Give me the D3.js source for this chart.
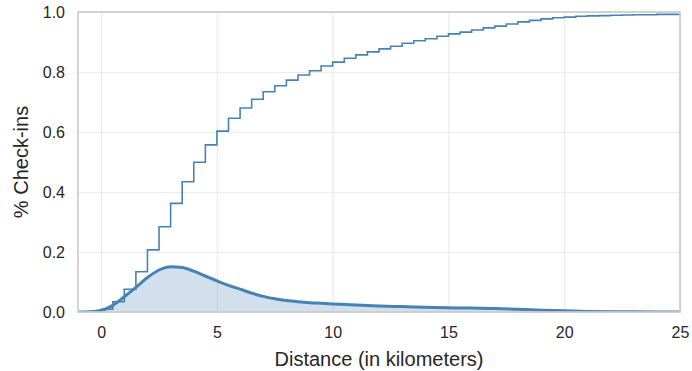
<!DOCTYPE html>
<html>
<head>
<meta charset="utf-8">
<script src="https://cdn.jsdelivr.net/npm/d3@7"></script>
<style>
  body { margin: 0; background: #fff; }
  text { font-family: "Liberation Sans", Arial, sans-serif; fill: #262626; }
</style>
</head>
<body>
<div id="chart"></div>
<script>
// cumulative share of check-ins, one value per 0.5 km bin starting at 0
const binWidth = 0.5;
const cdfValues = [
  0.009, 0.034, 0.076, 0.134, 0.207, 0.284, 0.362, 0.434, 0.499, 0.557,
  0.603, 0.646, 0.680, 0.709, 0.734, 0.754, 0.773, 0.790, 0.804, 0.820,
  0.833, 0.846, 0.857, 0.867, 0.877, 0.886, 0.896, 0.904, 0.911, 0.919,
  0.927, 0.933, 0.940, 0.947, 0.953, 0.960, 0.967, 0.972, 0.977, 0.981,
  0.983, 0.986, 0.987, 0.988, 0.989, 0.990, 0.991, 0.991, 0.992, 0.992
];

// density estimate
const kdeX = [-1, -0.5, 0, 0.5, 1, 1.5, 2, 2.5, 3, 3.5, 4, 4.5, 5, 5.5, 6, 6.5, 7, 7.5, 8, 8.5,
  9, 9.5, 10, 11, 12, 13, 14, 15, 16, 17, 18, 19, 20, 21, 22, 23, 24, 25];
const kdeY = [0, 0.001, 0.005, 0.022, 0.051, 0.082, 0.115, 0.140, 0.151, 0.148, 0.136, 0.120, 0.104,
  0.089, 0.076, 0.063, 0.052, 0.044, 0.038, 0.034, 0.031, 0.029, 0.027, 0.023, 0.020, 0.018, 0.016,
  0.014, 0.013, 0.012, 0.009, 0.006, 0.004, 0.002, 0.001, 0.0005, 0.0002, 0];

const xTicks = [0, 5, 10, 15, 20, 25];
const yTicks = [0, 0.2, 0.4, 0.6, 0.8, 1.0];

const totalWidth = 692;
const totalHeight = 371;
const margin = { top: 12, right: 12, bottom: 59, left: 78 };
const width = totalWidth - margin.left - margin.right;
const height = totalHeight - margin.top - margin.bottom;

const svg = d3.select('#chart')
  .append('svg')
  .attr('width', totalWidth)
  .attr('height', totalHeight)
  .append('g')
  .attr('transform', 'translate(' + margin.left + ',' + margin.top + ')');

const x = d3.scaleLinear().domain([-1, 25]).range([0, width]);
const y = d3.scaleLinear().domain([0, 1]).range([height, 0]);

// grid
svg.append('g')
  .attr('transform', 'translate(0,' + height + ')')
  .call(d3.axisBottom(x).tickValues(xTicks).tickSize(-height).tickFormat(''))
  .call(g => g.select('.domain').remove())
  .call(g => g.selectAll('line').attr('stroke', '#ebebeb').attr('stroke-width', 1.2));

svg.append('g')
  .call(d3.axisLeft(y).tickValues(yTicks).tickSize(-width).tickFormat(''))
  .call(g => g.select('.domain').remove())
  .call(g => g.selectAll('line').attr('stroke', '#ebebeb').attr('stroke-width', 1.2));

svg.append('defs').append('clipPath').attr('id', 'clip')
  .append('rect').attr('width', width).attr('height', height);

const plot = svg.append('g').attr('clip-path', 'url(#clip)');

// kde
const kdePts = kdeX.map((d, i) => [d, kdeY[i]]);

plot.append('path')
  .datum(kdePts)
  .attr('d', d3.area().x(d => x(d[0])).y0(y(0)).y1(d => y(d[1])).curve(d3.curveMonotoneX))
  .attr('fill', '#4682b4')
  .attr('fill-opacity', 0.25);

// cumulative step histogram
const cdfPts = [[0, 0]];
cdfValues.forEach((v, i) => cdfPts.push([i * binWidth, v]));
cdfPts.push([cdfValues.length * binWidth, cdfValues[cdfValues.length - 1]]);

plot.append('path')
  .datum(cdfPts)
  .attr('d', d3.line().x(d => x(d[0])).y(d => y(d[1])).curve(d3.curveStepAfter))
  .attr('fill', 'none')
  .attr('stroke', '#4682b4')
  .attr('stroke-width', 1.6);

plot.append('path')
  .datum(kdePts)
  .attr('d', d3.line().x(d => x(d[0])).y(d => y(d[1])).curve(d3.curveMonotoneX))
  .attr('fill', 'none')
  .attr('stroke', '#4682b4')
  .attr('stroke-width', 3);

// spines
svg.append('rect')
  .attr('width', width)
  .attr('height', height)
  .attr('fill', 'none')
  .attr('stroke', '#cccccc')
  .attr('stroke-width', 1.7);

// tick labels
svg.append('g')
  .attr('transform', 'translate(0,' + height + ')')
  .call(d3.axisBottom(x).tickValues(xTicks).tickSize(0).tickPadding(15))
  .call(g => g.select('.domain').remove())
  .call(g => g.selectAll('text').style('font-size', '16px').attr('fill', '#262626'));

svg.append('g')
  .call(d3.axisLeft(y).tickValues(yTicks).tickSize(0).tickPadding(13).tickFormat(d3.format('.1f')))
  .call(g => g.select('.domain').remove())
  .call(g => g.selectAll('text').style('font-size', '16px').attr('fill', '#262626'));

// axis labels
svg.append('text')
  .text('Distance (in kilometers)')
  .attr('x', width / 2)
  .attr('y', height + 54)
  .attr('text-anchor', 'middle')
  .style('font-size', '20px');

svg.append('text')
  .text('% Check-ins')
  .attr('transform', 'translate(' + (-50) + ',' + (height / 2) + ') rotate(-90)')
  .attr('text-anchor', 'middle')
  .style('font-size', '20px');
</script>
</body>
</html>
